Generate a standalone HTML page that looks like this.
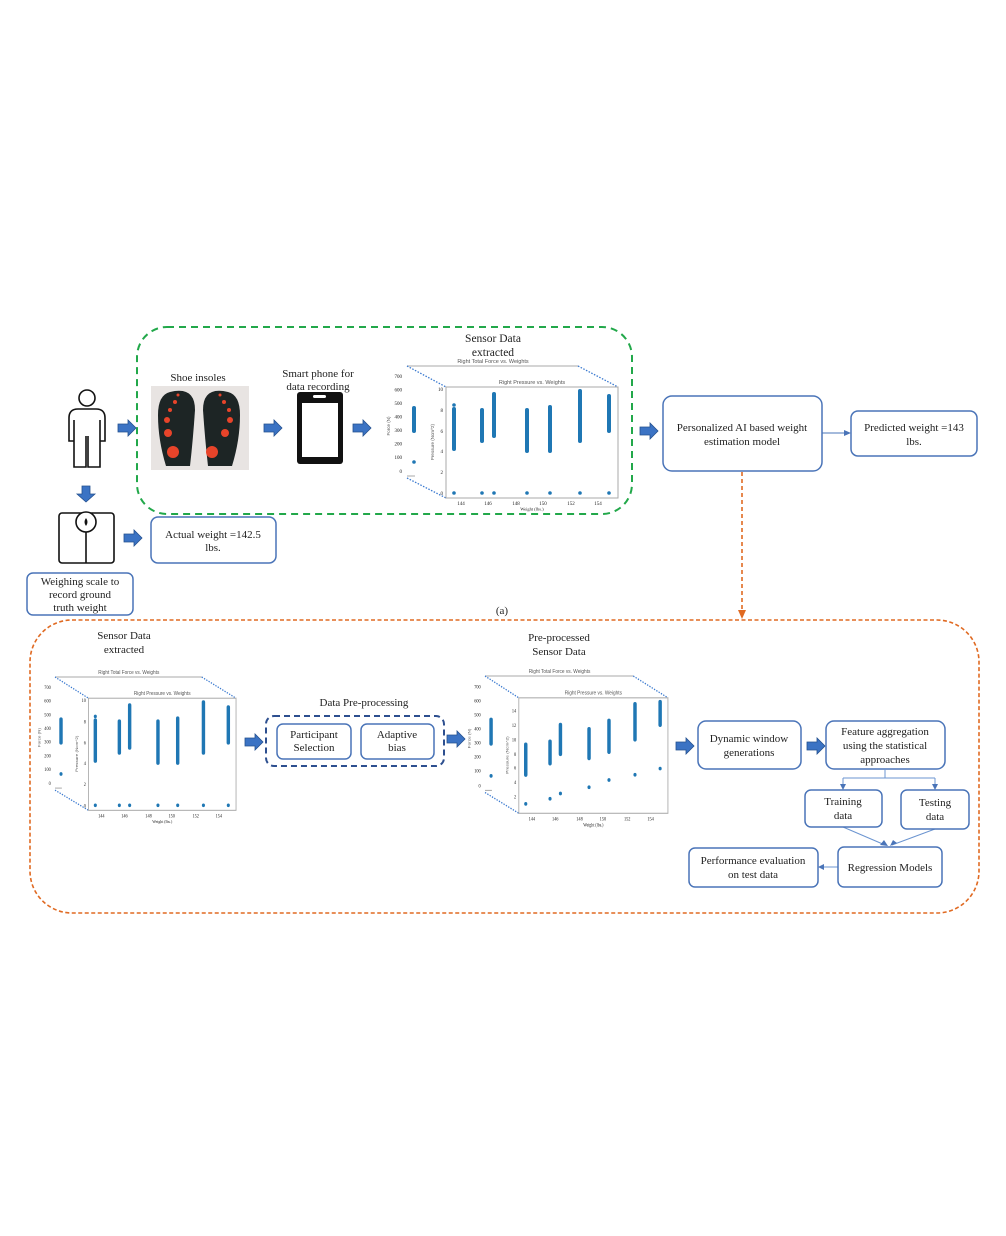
<!DOCTYPE html>
<html><head><meta charset="utf-8"><style>
html,body{margin:0;padding:0;background:#fff}
svg{display:block}
text{font-family:"Liberation Serif",serif;fill:#222}
.s{font-family:"Liberation Sans",sans-serif;fill:#555}
.b{fill:#fff;stroke:#4a74b8;stroke-width:1.5}
</style></head><body>
<svg width="1006" height="1236" viewBox="0 0 1006 1236" xmlns="http://www.w3.org/2000/svg">
<defs>
<g id="arr"><path d="M0,-4 L10,-4 L10,-8 L18,0 L10,8 L10,4 L0,4 Z" fill="#3b73c4" stroke="#24508f" stroke-width="0.8"/></g>
<g id="plotback">
 <line x1="0" y1="0" x2="171" y2="0" stroke="#aaa" stroke-width="1"/>
 <line x1="0" y1="0" x2="39" y2="21" stroke="#3b7ad0" stroke-width="1.3" stroke-dasharray="1.5,1.5"/>
 <line x1="171" y1="0" x2="211" y2="21" stroke="#3b7ad0" stroke-width="1.3" stroke-dasharray="1.5,1.5"/>
 <line x1="0" y1="112" x2="39" y2="132" stroke="#3b7ad0" stroke-width="1.3" stroke-dasharray="1.5,1.5"/>
 <line x1="0" y1="110" x2="8" y2="110" stroke="#aaa"/>
 <g class="s" font-size="5" text-anchor="end">
  <text x="-5" y="12">700</text><text x="-5" y="25.5">600</text><text x="-5" y="39">500</text><text x="-5" y="52.5">400</text><text x="-5" y="66">300</text><text x="-5" y="79.5">200</text><text x="-5" y="93">100</text><text x="-5" y="107">0</text>
 </g>
 <text class="s" font-size="4.5" transform="translate(-17,60) rotate(-90)" text-anchor="middle">Force (N)</text>
 <line x1="7" y1="42" x2="7" y2="65" stroke="#1f77b4" stroke-width="4" stroke-linecap="round"/>
 <circle cx="7" cy="96" r="1.8" fill="#1f77b4"/>
 <text class="s" font-size="5.5" x="86" y="-3" text-anchor="middle">Right Total Force vs. Weights</text>
 <rect x="39" y="21" width="172" height="111" fill="#fff" stroke="#aaa" stroke-width="1"/>
 <text class="s" font-size="5.5" x="125" y="18" text-anchor="middle">Right Pressure vs. Weights</text>
 <g class="s" font-size="5" text-anchor="middle">
  <text x="54" y="139">144</text><text x="81" y="139">146</text><text x="109" y="139">148</text><text x="136" y="139">150</text><text x="164" y="139">152</text><text x="191" y="139">154</text>
  <text x="125" y="144.5" font-size="4.5">Weight (lbs.)</text>
 </g>
 <text class="s" font-size="4.5" transform="translate(27,76) rotate(-90)" text-anchor="middle">Pressure (Ncm^2)</text>
</g>
<g id="p1data">
 <g class="s" font-size="5" text-anchor="end">
  <text x="36" y="25">10</text><text x="36" y="46">8</text><text x="36" y="67">6</text><text x="36" y="87">4</text><text x="36" y="108">2</text><text x="36" y="129">0</text>
 </g>
 <g stroke="#1f77b4" stroke-width="4" stroke-linecap="round">
  <line x1="47" y1="43" x2="47" y2="83"/><line x1="75" y1="44" x2="75" y2="75"/><line x1="87" y1="28" x2="87" y2="70"/>
  <line x1="120" y1="44" x2="120" y2="85"/><line x1="143" y1="41" x2="143" y2="85"/><line x1="173" y1="25" x2="173" y2="75"/><line x1="202" y1="30" x2="202" y2="65"/>
 </g>
 <g fill="#1f77b4"><circle cx="47" cy="39" r="1.8"/>
  <circle cx="47" cy="127" r="1.8"/><circle cx="75" cy="127" r="1.8"/><circle cx="87" cy="127" r="1.8"/><circle cx="120" cy="127" r="1.8"/><circle cx="143" cy="127" r="1.8"/><circle cx="173" cy="127" r="1.8"/><circle cx="202" cy="127" r="1.8"/></g>
</g>
<g id="p2data">
 <g class="s" font-size="5" text-anchor="end">
  <text x="36" y="35">14</text><text x="36" y="49">12</text><text x="36" y="63">10</text><text x="36" y="77">8</text><text x="36" y="90">6</text><text x="36" y="104">4</text><text x="36" y="118">2</text>
 </g>
 <g stroke="#1f77b4" stroke-width="4" stroke-linecap="round">
  <line x1="47" y1="66" x2="47" y2="95"/><line x1="75" y1="63" x2="75" y2="84"/><line x1="87" y1="47" x2="87" y2="75"/>
  <line x1="120" y1="51" x2="120" y2="79"/><line x1="143" y1="43" x2="143" y2="73"/><line x1="173" y1="27" x2="173" y2="61"/><line x1="202" y1="25" x2="202" y2="47"/>
 </g>
 <g fill="#1f77b4"><circle cx="47" cy="123" r="1.8"/><circle cx="75" cy="118" r="1.8"/><circle cx="87" cy="113" r="1.8"/><circle cx="120" cy="107" r="1.8"/><circle cx="143" cy="100" r="1.8"/><circle cx="173" cy="95" r="1.8"/><circle cx="202" cy="89" r="1.8"/></g>
</g>
</defs>

<rect x="137" y="327" width="495" height="187" rx="30" fill="none" stroke="#22a84a" stroke-width="2" stroke-dasharray="7,5"/>
<text x="493" y="342" font-size="11.5" text-anchor="middle">Sensor Data</text>
<text x="493" y="356" font-size="11.5" text-anchor="middle">extracted</text>

<g fill="none" stroke="#111" stroke-width="1.6">
 <circle cx="87" cy="398" r="8"/>
 <path d="M78,409 L96,409 Q105,409 105,418 L105,441 L100,441 L100,420 M100,441 L100,467 L88,467 L88,436 M86,436 L86,467 L74,467 L74,441 M74,420 L74,441 L69,441 L69,418 Q69,409 78,409"/>
</g>
<use href="#arr" x="118" y="428"/>

<rect x="151" y="386" width="98" height="84" fill="#e8e4e2"/>
<path d="M170,392 Q195,386 195,410 Q193,440 190,466 L166,466 Q158,440 158,415 Q158,395 170,392Z" fill="#1d2525"/>
<path d="M228,392 Q203,386 203,410 Q205,440 208,466 L232,466 Q240,440 240,415 Q240,395 228,392Z" fill="#1d2525"/>
<g fill="#e8442a">
 <circle cx="173" cy="452" r="6"/><circle cx="168" cy="433" r="4"/><circle cx="167" cy="420" r="3"/><circle cx="170" cy="410" r="2"/><circle cx="175" cy="402" r="2"/><circle cx="178" cy="395" r="1.5"/>
 <circle cx="212" cy="452" r="6"/><circle cx="225" cy="433" r="4"/><circle cx="230" cy="420" r="3"/><circle cx="229" cy="410" r="2"/><circle cx="224" cy="402" r="2"/><circle cx="220" cy="395" r="1.5"/>
</g>
<text x="198" y="381" font-size="11" text-anchor="middle">Shoe insoles</text>
<use href="#arr" x="264" y="428"/>

<text x="318" y="377" font-size="11" text-anchor="middle">Smart phone for</text>
<text x="318" y="390" font-size="11" text-anchor="middle">data recording</text>
<rect x="297" y="392" width="46" height="72" rx="3" fill="#111"/>
<rect x="302" y="403" width="36" height="54" fill="#fff"/>
<rect x="313" y="395" width="13" height="3" rx="1.5" fill="#fff"/>
<use href="#arr" x="353" y="428"/>

<g transform="translate(407,366)"><use href="#plotback"/><use href="#p1data"/></g>

<use href="#arr" x="640" y="431"/>
<rect class="b" x="663" y="396" width="159" height="75" rx="9"/>
<text x="742" y="431" font-size="11" text-anchor="middle">Personalized AI based weight</text>
<text x="742" y="445" font-size="11" text-anchor="middle">estimation model</text>
<line x1="822" y1="433" x2="846" y2="433" stroke="#4a74b8" stroke-width="1"/>
<path d="M851,433 L844,430 L844,436Z" fill="#4a74b8"/>
<rect class="b" x="851" y="411" width="126" height="45" rx="7"/>
<text x="914" y="431" font-size="11" text-anchor="middle">Predicted weight =143</text>
<text x="914" y="445" font-size="11" text-anchor="middle">lbs.</text>

<path d="M82,486 L90,486 L90,494 L95,494 L86,502 L77,494 L82,494Z" fill="#3b73c4" stroke="#24508f" stroke-width="0.8"/>
<g fill="none" stroke="#111" stroke-width="1.6">
 <rect x="59" y="513" width="55" height="50" rx="3"/>
 <circle cx="86" cy="522" r="10" fill="#fff"/>
 <line x1="86" y1="532" x2="86" y2="563"/>
</g>
<path d="M86,518 Q89,522 86,526 Q83,522 86,518Z" fill="#111"/>
<use href="#arr" x="124" y="538"/>
<rect class="b" x="151" y="517" width="125" height="46" rx="7"/>
<text x="213" y="538" font-size="11" text-anchor="middle">Actual weight =142.5</text>
<text x="213" y="551" font-size="11" text-anchor="middle">lbs.</text>
<rect class="b" x="27" y="573" width="106" height="42" rx="6"/>
<text x="80" y="585" font-size="11" text-anchor="middle">Weighing scale to</text>
<text x="80" y="598" font-size="11" text-anchor="middle">record ground</text>
<text x="80" y="611" font-size="11" text-anchor="middle">truth weight</text>
<text x="502" y="614" font-size="11" text-anchor="middle">(a)</text>

<line x1="742" y1="472" x2="742" y2="612" stroke="#e06a22" stroke-width="1.6" stroke-dasharray="4,3"/>
<path d="M742,619 L738,610 L746,610Z" fill="#e06a22"/>
<rect x="30" y="620" width="949" height="293" rx="42" fill="none" stroke="#e06a22" stroke-width="1.6" stroke-dasharray="4,2.5"/>
<text x="494" y="924" font-size="11" text-anchor="middle">(b)</text>
<rect x="400" y="914" width="200" height="20" fill="#fff"/>

<text x="124" y="639" font-size="11" text-anchor="middle">Sensor Data</text>
<text x="124" y="653" font-size="11" text-anchor="middle">extracted</text>
<g transform="translate(55,677) scale(0.858,1.01)"><use href="#plotback"/><use href="#p1data"/></g>
<use href="#arr" x="245" y="742"/>
<text x="364" y="706" font-size="11" text-anchor="middle">Data Pre-processing</text>
<rect x="266" y="716" width="178" height="50" rx="8" fill="none" stroke="#2d4f8f" stroke-width="2" stroke-dasharray="6,4"/>
<rect class="b" x="277" y="724" width="74" height="35" rx="6"/>
<text x="314" y="738" font-size="11" text-anchor="middle">Participant</text>
<text x="314" y="751" font-size="11" text-anchor="middle">Selection</text>
<rect class="b" x="361" y="724" width="73" height="35" rx="6"/>
<text x="397" y="738" font-size="11" text-anchor="middle">Adaptive</text>
<text x="397" y="751" font-size="11" text-anchor="middle">bias</text>
<use href="#arr" x="447" y="739"/>
<text x="559" y="641" font-size="11" text-anchor="middle">Pre-processed</text>
<text x="559" y="655" font-size="11" text-anchor="middle">Sensor Data</text>
<g transform="translate(485,676) scale(0.867,1.04)"><use href="#plotback"/><use href="#p2data"/></g>
<use href="#arr" x="676" y="746"/>
<rect class="b" x="698" y="721" width="103" height="48" rx="8"/>
<text x="749" y="742" font-size="11" text-anchor="middle">Dynamic window</text>
<text x="749" y="756" font-size="11" text-anchor="middle">generations</text>
<use href="#arr" x="807" y="746"/>
<rect class="b" x="826" y="721" width="119" height="48" rx="8"/>
<text x="885" y="735" font-size="11" text-anchor="middle">Feature aggregation</text>
<text x="885" y="749" font-size="11" text-anchor="middle">using the statistical</text>
<text x="885" y="763" font-size="11" text-anchor="middle">approaches</text>
<g stroke="#6b94d0" stroke-width="1" fill="none">
 <path d="M885,769 L885,778 M843,778 L935,778 M843,778 L843,786 M935,778 L935,786"/>
 <path d="M843,827 L885,845 M935,829 L892,845"/>
 <path d="M838,867 L823,867"/>
</g>
<g fill="#4a74b8">
 <path d="M843,790 L840,784 L846,784Z"/><path d="M935,790 L932,784 L938,784Z"/>
 <path d="M888,846 L880,845 L884,840Z"/><path d="M890,846 L893,840 L897,843Z"/>
 <path d="M818,867 L824,864 L824,870Z"/>
</g>
<rect class="b" x="805" y="790" width="77" height="37" rx="6"/>
<text x="843" y="805" font-size="11" text-anchor="middle">Training</text>
<text x="843" y="819" font-size="11" text-anchor="middle">data</text>
<rect class="b" x="901" y="790" width="68" height="39" rx="6"/>
<text x="935" y="806" font-size="11" text-anchor="middle">Testing</text>
<text x="935" y="820" font-size="11" text-anchor="middle">data</text>
<rect class="b" x="838" y="847" width="104" height="40" rx="6"/>
<text x="890" y="871" font-size="11" text-anchor="middle">Regression Models</text>
<rect class="b" x="689" y="848" width="129" height="39" rx="6"/>
<text x="753" y="864" font-size="11" text-anchor="middle">Performance evaluation</text>
<text x="753" y="878" font-size="11" text-anchor="middle">on test data</text>
</svg>
</body></html>
